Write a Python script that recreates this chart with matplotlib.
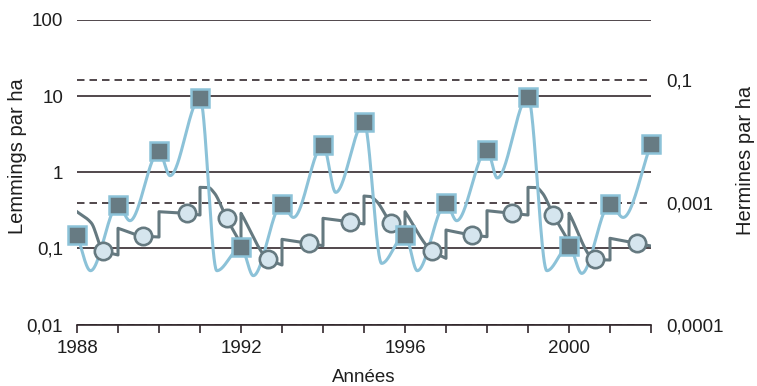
import numpy as np
import matplotlib
matplotlib.use("Agg")
import matplotlib.pyplot as plt
from matplotlib.ticker import FixedLocator

plt.rcParams['font.family'] = ['Liberation Sans', 'DejaVu Sans']

# ---------------- data ----------------
# Lemmings (left axis, per ha): annual peaks (squares)
lem_years = [1988, 1989, 1990, 1991, 1992, 1993, 1994, 1995, 1996, 1997, 1998, 1999, 2000, 2001, 2002]
lem_values = [0.151, 0.372, 1.88, 9.47, 0.103, 0.383, 2.30, 4.52, 0.151, 0.390, 1.98, 9.85, 0.108, 0.383, 2.35]
# Lemmings: lows between the squares (part of the line)
lem_low_years = [1988.33, 1989.29, 1990.27, 1991.41, 1992.30, 1993.28, 1994.31, 1995.43,
                 1996.30, 1997.26, 1998.25, 1999.46, 2000.31, 2001.32]
lem_low_values = [0.0509, 0.231, 0.902, 0.0509, 0.0438, 0.255, 0.544, 0.0635,
                  0.0509, 0.231, 0.841, 0.0509, 0.0469, 0.255]

# Ermines (right axis, per ha)
erm_years = [1988, 1989, 1990, 1991, 1992, 1993, 1994, 1995, 1996, 1997, 1998, 1999, 2000, 2001]
erm_circle_x = [1988.64, 1989.60, 1990.68, 1991.65, 1992.67, 1993.66, 1994.66, 1995.65,
                1996.65, 1997.63, 1998.60, 1999.62, 2000.63, 2001.65]
erm_circle = [1.65e-4, 2.87e-4, 6.72e-4, 5.57e-4, 1.19e-4, 2.18e-4, 4.90e-4, 4.61e-4,
              1.65e-4, 2.98e-4, 6.72e-4, 6.31e-4, 1.19e-4, 2.18e-4]
erm_start = [7.13e-4, 3.83e-4, 7.13e-4, 1.78e-3, 6.72e-4, 2.53e-4, 5.57e-4, 1.285e-3,
             7.13e-4, 3.59e-4, 7.41e-4, 1.78e-3, 6.72e-4, 2.63e-4]
erm_end = [1.405e-4, 2.76e-4, 6.30e-4, 2.12e-4, 9.65e-5, 1.99e-4, 4.50e-4, 2.47e-4,
           1.24e-4, 2.79e-4, 6.30e-4, 2.29e-4, 1.164e-4, 1.97e-4]
erm_extra_x = [1988.35, 1991.20, 1991.35, 1995.15, 1995.30, 1999.20, 1999.35]
erm_extra = [4.67e-4, 1.77e-3, 1.44e-3, 1.262e-3, 1.066e-3, 1.77e-3, 1.44e-3]

left_ticks = [0.01, 0.1, 1, 10, 100]
left_labels = ['0,01', '0,1', '1', '10', '100']
right_labels = ['0,0001', '0,001', '0,1']
x_label_years = [1988, 1992, 1996, 2000]


# ---------------- helpers ----------------
def pchip(x, y, xn):
    x = np.asarray(x, float)
    y = np.asarray(y, float)
    h = np.diff(x)
    d = np.diff(y) / h
    n = len(x)
    m = np.zeros(n)
    if n == 2:
        m[:] = d[0]
    else:
        for k in range(1, n - 1):
            if d[k - 1] * d[k] > 0:
                w1 = 2 * h[k] + h[k - 1]
                w2 = h[k] + 2 * h[k - 1]
                m[k] = (w1 + w2) / (w1 / d[k - 1] + w2 / d[k])
        m[0] = d[0]
        m[-1] = d[-1]
    idx = np.clip(np.searchsorted(x, xn) - 1, 0, n - 2)
    t = (xn - x[idx]) / h[idx]
    h00 = 2 * t**3 - 3 * t**2 + 1
    h10 = t**3 - 2 * t**2 + t
    h01 = -2 * t**3 + 3 * t**2
    h11 = t**3 - t**2
    return h00 * y[idx] + h10 * h[idx] * m[idx] + h01 * y[idx + 1] + h11 * h[idx] * m[idx + 1]


# ---------------- figure ----------------
W, H = 757, 386
fig = plt.figure(figsize=(W / 100, H / 100), dpi=100)
ax2 = fig.add_axes([77 / W, 1 - 324.5 / H, (651 - 77) / W, (324.5 - 20) / H])
ax = ax2.twinx()  # same x, lemmings axis on top
ax2.yaxis.tick_right()

grid_c = '#33292d'
txt_c = '#1e1e1e'
blue = '#8cc2d8'
slate = '#657980'
circ_fill = '#d5e5ee'

# Left axis (lemmings)
ax.set_yscale('log')
ax.set_ylim(0.01, 100)
ax.set_xlim(1988, 2002)
ax.yaxis.set_major_locator(FixedLocator(left_ticks))
ax.yaxis.set_minor_locator(FixedLocator([]))
ax.set_yticklabels(left_labels)
ax.yaxis.tick_left()
ax.yaxis.set_label_position('left')
ax.tick_params(axis='y', which='both', length=0, pad=10, labelsize=13.5, labelcolor=txt_c)
ax.grid(axis='y', which='major', color=grid_c, lw=1.2)
ax.set_axisbelow(True)
for s in ['left', 'right', 'top', 'bottom']:
    ax.spines[s].set_visible(False)
ax.patch.set_visible(False)

# Right axis (ermines)
ax2.set_yscale('log')
r_lo, r_hi = 1.035e-5, 0.9506
ax2.set_ylim(r_lo, r_hi)
ax2.set_xlim(1988, 2002)
ax2.yaxis.set_major_locator(FixedLocator([r_lo, 0.001, 0.1]))
ax2.yaxis.set_minor_locator(FixedLocator([]))
ax2.set_yticklabels(right_labels)
ax2.tick_params(axis='y', which='both', length=0, pad=11, labelsize=13.5, labelcolor=txt_c,
                left=False, labelleft=False, right=True, labelright=True)
ax2.yaxis.grid(True, which='major', color=grid_c, lw=1.2, ls=(0, (4.5, 3)))
for s in ['left', 'right', 'top']:
    ax2.spines[s].set_visible(False)
ax2.spines['bottom'].set_color(grid_c)
ax2.spines['bottom'].set_linewidth(1.2)
ax2.xaxis.set_major_locator(FixedLocator(x_label_years))
ax2.xaxis.set_minor_locator(FixedLocator(list(range(1988, 2003))))
ax2.set_xticklabels([str(y) for y in x_label_years])
ax2.tick_params(axis='x', which='both', direction='out', length=6, width=1.2, color=grid_c,
                labelsize=13.5, labelcolor=txt_c, pad=5)
ax2.set_xlabel('Années', fontsize=13.5, color=txt_c, labelpad=9)
ax.tick_params(axis='x', which='both', bottom=False, top=False, labelbottom=False, labeltop=False)
ax2.set_zorder(0)
ax.set_zorder(1)

# Ermine line (drawn on top axes using the right-axis scale)
etr = ax2.transData
xs_all, ys_all = [], []
for i, yr in enumerate(erm_years):
    px = [yr, erm_circle_x[i], yr + 1]
    pv = [erm_start[i], erm_circle[i], erm_end[i]]
    for ex, ev in zip(erm_extra_x, erm_extra):
        if yr < ex < yr + 1:
            px.append(ex)
            pv.append(ev)
    order = np.argsort(px)
    px = np.array(px)[order]
    pv = np.log10(np.array(pv)[order])
    xn = np.linspace(yr, yr + 1, 80)
    xs_all.append(xn)
    ys_all.append(10 ** pchip(px, pv, xn))
ax.plot(np.concatenate(xs_all), np.concatenate(ys_all), color=slate, lw=2.2,
        transform=etr, zorder=2, solid_joinstyle='round')

# Lemming line
lx = np.array(lem_years + lem_low_years, float)
lv = np.array(lem_values + lem_low_values, float)
o = np.argsort(lx)
lx, lv = lx[o], np.log10(lv[o])
xn = np.linspace(1988, 2002, 1400)
ax.plot(xn, 10 ** pchip(lx, lv, xn), color=blue, lw=2.2, zorder=3)

# Ermine circles
ax.plot(erm_circle_x, erm_circle, 'o', ms=12.5, mfc=circ_fill, mec=slate, mew=1.9,
        transform=etr, zorder=4, ls='none')
# Lemming squares
ax.plot(lem_years, lem_values, 's', ms=12.5, mfc='#677b83', mec=blue, mew=1.8,
        zorder=5, ls='none', clip_on=False)

fig.text(18 / W, 1 - 156 / H, 'Lemmings par ha', rotation=90, ha='center', va='center',
         fontsize=14.5, color=txt_c)
fig.text(755 / W, 1 - 160 / H, 'Hermines par ha', rotation=90, ha='right', va='center',
         fontsize=14.5, color=txt_c)

fig.savefig('out.png', dpi=100)
